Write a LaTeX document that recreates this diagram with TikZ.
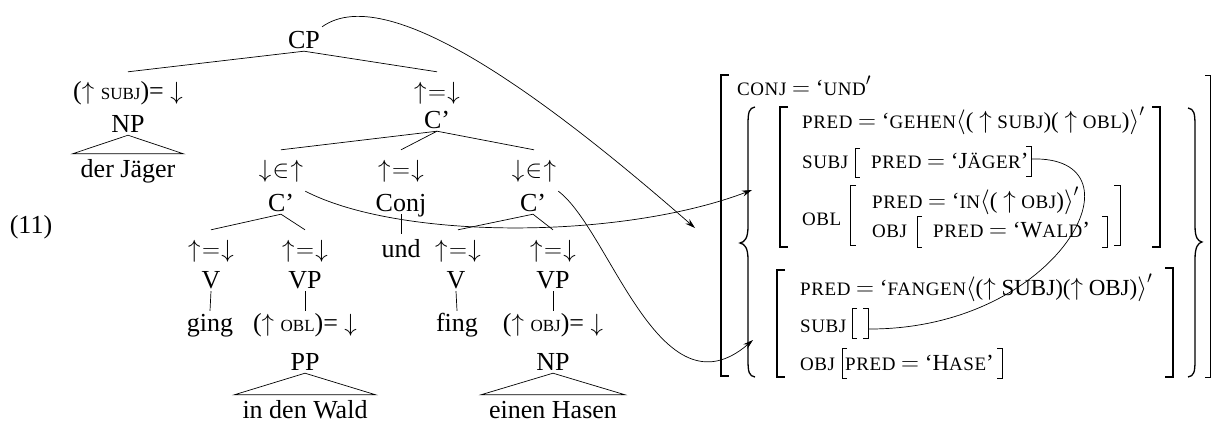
\documentclass[tikz,border=0pt]{standalone}
\usepackage{fontspec}
\setmainfont{Liberation Serif}
\usetikzlibrary{arrows.meta}
\newcommand\tsc[1]{{\fontsize{17}{17}\selectfont #1}}
\newcommand\fsc[1]{{\fontsize{19}{19}\selectfont\addfontfeature{LetterSpace=3}#1}}
\newcommand\ueq{$\uparrow\mkern-4mu{=}\mkern-4mu\downarrow$}
\newcommand\din{$\downarrow\mkern-4mu{\in}\mkern-4mu\uparrow$}
\begin{document}
\begin{tikzpicture}[x=1pt,y=-1pt,
  tree/.style={font=\fontsize{26}{30}\selectfont, inner xsep=2pt, anchor=base},
  cat/.style={tree, text height=18pt, text depth=0pt, inner ysep=3pt},
  ann/.style={tree, text height=18pt, text depth=5pt, inner ysep=9pt},
  word/.style={tree, text height=17pt, text depth=0pt, inner ysep=6pt, inner xsep=0pt},
  low/.style={tree, text height=18pt, text depth=5pt, inner ysep=2pt},
  fs/.style={font=\fontsize{23}{24}\selectfont, anchor=base west, inner sep=0pt},
  edge/.style={line width=0.7pt},
  brk/.style={line width=0.8pt},
  bigbrk/.style={line width=1.2pt},
  brace/.style={line width=1.3pt},
  arr/.style={line width=0.7pt, -{Stealth[length=10pt,width=6pt]}}]
\useasboundingbox (0,0) rectangle (1214,423);

% ---------- tree ----------
\node[tree] (ex) at (31,233) {(11)};
\node[cat] (CP) at (304,48) {CP};
\node[ann] (a1) at (128,99) {($\uparrow$ \tsc{SUBJ})= $\downarrow$};
\node[cat] (NP1) at (128,132) {NP};
\node[word] (w1) at (128,177) {der Jäger};
\node[ann] (a2) at (437,99) {\ueq};
\node[cat] (C1) at (437,128) {C’};
\node[ann] (a3) at (281,177) {\din};
\node[ann] (a4) at (401,177) {\ueq};
\node[ann] (a5) at (534,177) {\din};
\node[cat] (C2) at (281,211) {C’};
\node[cat] (Conj) at (401,211) {Conj};
\node[cat] (C3) at (533,211) {C’};
\node[ann] (a6) at (211,257) {\ueq};
\node[ann] (a7) at (305,257) {\ueq};
\node[word] (und) at (401,257) {und};
\node[ann] (a8) at (458,257) {\ueq};
\node[ann] (a9) at (553,257) {\ueq};
\node[cat] (V1) at (211,288) {V};
\node[cat] (VP1) at (305,288) {VP};
\node[cat] (V2) at (456,288) {V};
\node[cat] (VP2) at (553,288) {VP};
\node[low] (ging) at (210,331) {ging};
\node[low] (a10) at (305,331) {($\uparrow$ \tsc{OBL})= $\downarrow$};
\node[low] (fing) at (457,331) {fing};
\node[low] (a11) at (553,331) {($\uparrow$ \tsc{OBJ})= $\downarrow$};
\node[cat] (PP) at (305,370) {PP};
\node[cat] (NP2) at (553,370) {NP};
\node[word] (w2) at (305,418) {in den Wald};
\node[word] (w3) at (553,418) {einen Hasen};

\draw[edge] (CP.south) -- (a1.north);
\draw[edge] (CP.south) -- (a2.north);
\draw[edge] (NP1.south) -- ([xshift=-8pt]w1.north west) -- ([xshift=8pt]w1.north east) -- cycle;
\draw[edge] (C1.south) -- (a3.north);
\draw[edge] (C1.south) -- (a4.north);
\draw[edge] (C1.south) -- (a5.north);
\draw[edge] (C2.south) -- (a6.north);
\draw[edge] (C2.south) -- (a7.north);
\draw[edge] (Conj.south) -- (und.north);
\draw[edge] (C3.south) -- (a8.north);
\draw[edge] (C3.south) -- (a9.north);
\draw[edge] (V1.south) -- (ging.north);
\draw[edge] (VP1.south) -- (a10.north);
\draw[edge] (V2.south) -- (fing.north);
\draw[edge] (VP2.south) -- (a11.north);
\draw[edge] (PP.south) -- ([xshift=-8pt]w2.north west) -- ([xshift=8pt]w2.north east) -- cycle;
\draw[edge] (NP2.south) -- ([xshift=-8pt]w3.north west) -- ([xshift=8pt]w3.north east) -- cycle;

% ---------- f-structure ----------
\node[fs] (conj) at (737,95) {\fsc{CONJ} $=$ ‘\fsc{UND}$'$};
\node[fs] (p1) at (802,128) {\fsc{PRED} $=$ ‘\fsc{GEHEN}$\big\langle$( $\uparrow$ \fsc{SUBJ})( $\uparrow$ \fsc{OBL})$\big\rangle'$};
\node[fs] (s1) at (802,168) {\fsc{SUBJ}};
\node[fs] (s1p) at (871,168) {\fsc{PRED} $=$ ‘J\fsc{ÄGER}’};
\node[fs] (o1) at (802,225) {\fsc{OBL}};
\node[fs] (o1p) at (872,208) {\fsc{PRED} $=$ ‘\fsc{IN}$\big\langle$( $\uparrow$ \fsc{OBJ})$\big\rangle'$};
\node[fs] (o1o) at (872,237) {\fsc{OBJ}};
\node[fs] (o1op) at (933,237) {\fsc{PRED} $=$ ‘W\fsc{ALD}’};
\node[fs] (p2) at (800,295) {\fsc{PRED} $=$ ‘\fsc{FANGEN}$\big\langle$($\uparrow$ SUBJ)($\uparrow$ OBJ)$\big\rangle'$};
\node[fs] (s2) at (800,332) {\fsc{SUBJ}};
\node[fs] (o2) at (800,370) {\fsc{OBJ}};
\node[fs] (o2p) at (845,370) {\fsc{PRED} $=$ ‘H\fsc{ASE}’};

% outer brackets
\draw[bigbrk] (729,75) -- (721,75) -- (721,376) -- (729,376);
\draw[brk] (1205,75) -- (1210,75) -- (1210,377) -- (1205,377);
% braces
\draw[brace] (755,107) .. controls (749,108) and (748,112) .. (748,125) -- (748,226)
  .. controls (748,238) and (745,242) .. (740,243)
  .. controls (745,244) and (748,248) .. (748,260) -- (748,360)
  .. controls (748,372) and (749,376) .. (755,377);
\draw[brace] (1188,108) .. controls (1194,109) and (1195,113) .. (1195,126) -- (1195,226)
  .. controls (1195,238) and (1198,241) .. (1202,242)
  .. controls (1198,243) and (1195,247) .. (1195,259) -- (1195,360)
  .. controls (1195,372) and (1194,376) .. (1188,377);
% inner brackets
\draw[bigbrk] (788,107) -- (780,107) -- (780,247) -- (788,247);
\draw[bigbrk] (1152,107) -- (1160,107) -- (1160,247) -- (1152,247);
\draw[bigbrk] (785,270) -- (777,270) -- (777,377) -- (785,377);
\draw[bigbrk] (1165,268) -- (1173,268) -- (1173,377) -- (1165,377);
\draw[brk] (860,148) -- (855,148) -- (855,177) -- (860,177);
\draw[brk] (1026,146) -- (1031,146) -- (1031,176) -- (1026,176);
\draw[brk] (856,185) -- (850,185) -- (850,245) -- (856,245);
\draw[brk] (1114,185) -- (1120,185) -- (1120,245) -- (1114,245);
\draw[brk] (922,216) -- (917,216) -- (917,247) -- (922,247);
\draw[brk] (1102,216) -- (1107,216) -- (1107,247) -- (1102,247);
\draw[brk] (857,308) -- (852,308) -- (852,338) -- (857,338);
\draw[brk] (863,308) -- (868,308) -- (868,338) -- (863,338);
\draw[brk] (847,348) -- (842,348) -- (842,378) -- (847,378);
\draw[brk] (997,348) -- (1002,348) -- (1002,378) -- (997,378);

% ---------- connectors ----------
\coordinate (t1) at (695,228);
\coordinate (t2) at (752,190);
\coordinate (t3) at (753,340);
\coordinate (j1) at (1031,159);
\coordinate (j2) at (868,329);
\draw[arr] (CP.north east) .. controls (390,-22) and (560,110) .. (t1);
\draw[arr] (a3.south east) .. controls (400,240) and (620,240) .. (t2);
\draw[arr] (a5.south east) .. controls (610,230) and (660,420) .. (t3);
\draw[edge] (j1) .. controls (1150,155) and (1060,330) .. (j2);
\end{tikzpicture}
\end{document}
